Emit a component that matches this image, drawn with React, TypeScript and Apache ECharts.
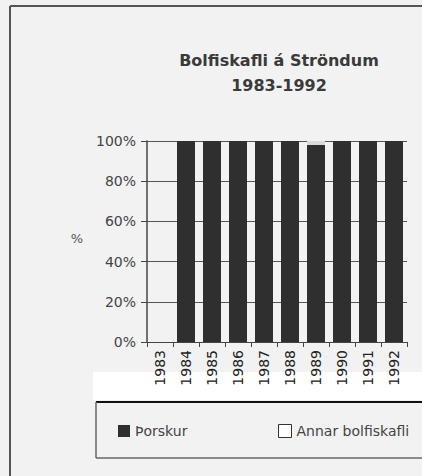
import React, { useEffect, useRef } from "react";
import * as echarts from "echarts";

const years = ["1983", "1984", "1985", "1986", "1987", "1988", "1989", "1990", "1991", "1992"];
const thorskur = [0, 100, 100, 100, 100, 100, 98, 100, 100, 100];
const annar = [0, 0, 0, 0, 0, 0, 2, 0, 0, 0];
const yTicks = [0, 20, 40, 60, 80, 100];
const titleLines = ["Bolfiskafli á Ströndum", "1983-1992"];
const seriesNames = ["Þorskur", "Annar bolfiskafli"];

const FONT = "DejaVu Sans";

export default function App() {
  const ref = useRef<HTMLDivElement>(null);
  useEffect(() => {
    if (!ref.current) return;
    const chart = echarts.init(ref.current, undefined, { renderer: "svg" });
    chart.setOption({
      animation: false,
      backgroundColor: "#f2f2f2",
      graphic: [
        { type: "rect", shape: { x: 93, y: 372, width: 329, height: 28 }, style: { fill: "#ffffff" }, z: -10 },
        { type: "line", shape: { x1: 10, y1: 6, x2: 422, y2: 6 }, style: { stroke: "#555", lineWidth: 2 } },
        { type: "line", shape: { x1: 10, y1: 6, x2: 10, y2: 476 }, style: { stroke: "#555", lineWidth: 2 } },
        { type: "line", shape: { x1: 96, y1: 402, x2: 422, y2: 402 }, style: { stroke: "#111", lineWidth: 2 } },
        { type: "line", shape: { x1: 96, y1: 402, x2: 96, y2: 458 }, style: { stroke: "#666", lineWidth: 1.5 } },
        { type: "line", shape: { x1: 96, y1: 458, x2: 422, y2: 458 }, style: { stroke: "#666", lineWidth: 1.5 } },
        {
          type: "text", x: 279, y: 60,
          style: { text: titleLines[0], font: `bold 16px "${FONT}"`, fill: "#3a3a3a", align: "center", verticalAlign: "middle" },
        },
        {
          type: "text", x: 279, y: 85,
          style: { text: titleLines[1], font: `bold 16px "${FONT}"`, fill: "#3a3a3a", align: "center", verticalAlign: "middle" },
        },
        {
          type: "text", x: 77, y: 238,
          style: { text: "%", font: `13px "${FONT}"`, fill: "#555", align: "center", verticalAlign: "middle" },
        },
      ],
      grid: { left: 147, right: 15, top: 141, bottom: 134, containLabel: false },
      xAxis: {
        type: "category",
        data: years,
        axisLine: { show: true, lineStyle: { color: "#444", width: 1 } },
        axisTick: { show: true, length: 5, lineStyle: { color: "#444" } },
        axisLabel: { rotate: 90, margin: 8, fontSize: 14, fontFamily: FONT, color: "#222" },
        splitLine: { show: false },
      },
      yAxis: {
        type: "value",
        min: 0,
        max: 100,
        interval: 20,
        axisLine: { show: true, lineStyle: { color: "#444", width: 1.5 } },
        axisTick: { show: true, length: 6, lineStyle: { color: "#444" } },
        axisLabel: {
          margin: 11,
          fontSize: 14,
          fontFamily: FONT,
          color: "#444",
          formatter: (v: number) => (yTicks.includes(v) ? `${v}%` : ""),
        },
        splitLine: { show: true, lineStyle: { color: "#555", width: 1 } },
      },
      legend: [
        {
          data: [seriesNames[0]],
          left: 113, top: 419,
          itemWidth: 12, itemHeight: 12, itemGap: 5,
          textStyle: { fontSize: 14, fontFamily: FONT, color: "#444" },
          icon: "rect",
        },
        {
          data: [{ name: seriesNames[1], itemStyle: { color: "#ffffff", borderColor: "#333", borderWidth: 1 } }],
          left: 273, top: 419,
          itemWidth: 13, itemHeight: 13, itemGap: 5,
          textStyle: { fontSize: 14, fontFamily: FONT, color: "#444" },
          icon: "rect",
        },
      ],
      series: [
        {
          name: seriesNames[0],
          type: "bar",
          stack: "total",
          data: thorskur,
          barWidth: 18,
          itemStyle: { color: "#2f2f2f" },
        },
        {
          name: seriesNames[1],
          type: "bar",
          stack: "total",
          data: annar,
          barWidth: 18,
          itemStyle: { color: "#d9d9d9", borderWidth: 0 },
        },
      ],
    });
    return () => chart.dispose();
  }, []);
  return <div ref={ref} style={{ width: 422, height: 476, position: "absolute", left: 0, top: 0 }} />;
}
